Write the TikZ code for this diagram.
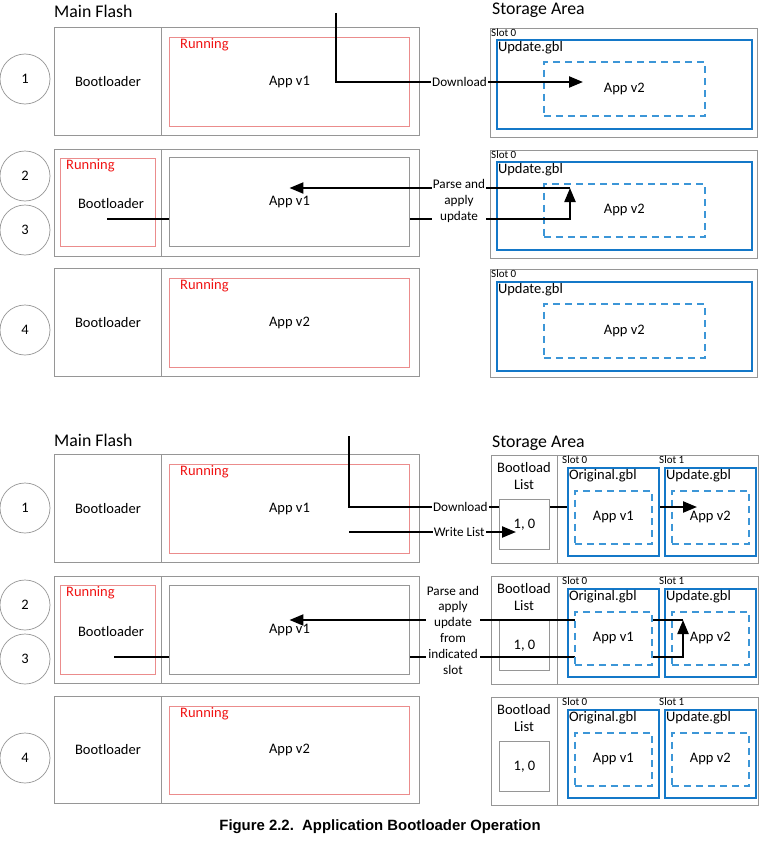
\documentclass[tikz,border=0pt]{standalone}
\usepackage{fontspec}
\setmainfont{Carlito}
\newfontfamily\capfont{Liberation Sans}
\usetikzlibrary{arrows.meta}
\definecolor{boxgray}{RGB}{150,150,150}
\definecolor{runline}{RGB}{235,140,140}
\definecolor{runred}{RGB}{240,20,20}
\definecolor{slotblue}{RGB}{20,120,200}
\definecolor{dashblue}{RGB}{60,150,215}

\begin{document}
\begin{tikzpicture}[x=1pt,y=-1pt,
txt/.style={font=\fontsize{14.5}{17}\selectfont,inner sep=0pt},
title/.style={font=\fontsize{17.8}{21}\selectfont,inner sep=0pt,anchor=west},
sz/.style 2 args={minimum width=#1pt,minimum height=#2pt},
cell/.style={draw=boxgray,line width=0.9pt,txt,anchor=north west},
runbox/.style={draw=runline,line width=0.9pt,txt,anchor=north west},
runtag/.style={text=runred,txt,anchor=north west},
blubox/.style={draw=slotblue,line width=1.7pt,fill=white,txt,anchor=north west},
dashbox/.style={draw=dashblue,line width=1.7pt,dash pattern=on 7pt off 5pt,fill=white,txt,anchor=north west},
slottag/.style={font=\fontsize{11}{13}\selectfont,inner sep=1pt,anchor=north west},
gbltag/.style={txt,inner sep=1.8pt,anchor=north west},
num/.style={circle,draw=boxgray,line width=0.7pt,minimum size=50pt,txt},
wire/.style={line width=2.2pt,-{Triangle[length=14pt,width=11pt]}},
tag/.style={fill=white,inner sep=1pt,font=\fontsize{13.2}{15.8}\selectfont,align=center}]
\useasboundingbox (0,0) rectangle (761,843);

% ---- single slot ----
\node[title] (mfa) at (54,11) {Main Flash};
\node[title] (saa) at (492,10) {Storage Area};

% step 1
\node[num] (n1a) at (25,79) {1};
\node[cell,sz={107}{108}] (boot1) at (54,27) {Bootloader};
\node[cell,sz={258}{108}] (app1) at (161,27) {};
\node[runbox,sz={240}{89}] (run1) at (169,37) {App v1};
\node[runtag] at ([shift={(11,1)}]run1.north west) {Running};
\node[cell,sz={267}{109}] (st1) at (490,28) {};
\node[slottag] at (st1.north west) {Slot 0};
\node[blubox,sz={255}{89}] (gbl1) at (496,39) {};
\node[gbltag] at (gbl1.north west) {Update.gbl};
\node[dashbox,sz={161}{54}] (new1) at (543,61) {App v2};
\coordinate (dl1) at (336,13);
\coordinate (dl1e) at (583,82);
\draw[wire] (dl1) |- node[tag,pos=.75]{Download} (dl1e);

% steps 2 and 3
\node[num] (n2a) at (25,176) {2};
\node[num] (n3a) at (25,230) {3};
\node[cell,sz={107}{107}] (boot2) at (54,149) {};
\node[cell,sz={258}{107}] (app2c) at (161,149) {};
\node[runbox,sz={95}{88}] (run2) at (60,158) {};
\node[runtag] at ([shift={(6,1)}]run2.north west) {Running};
\node[txt] (bl2) at (111,204) {Bootloader};
\node[cell,sz={267}{108}] (st2) at (490,150) {};
\node[slottag] at (st2.north west) {Slot 0};
\node[blubox,sz={255}{88}] (gbl2) at (496,161) {};
\node[gbltag] at (gbl2.north west) {Update.gbl};
\node[dashbox,sz={161}{53}] (new2) at (543,183) {App v2};
\coordinate (bs2) at (107,219);
\coordinate (up2) at (570,188);
\draw[wire] (bs2) -| (up2);
\node[cell,fill=white,sz={240}{89}] (app2) at (169,157) {App v1};
\draw[wire] (up2) -- (up2 -| app2.center);
\node[tag] (pa2) at (459,201) {Parse and\\apply\\update};

% step 4
\node[num] (n4a) at (25,330) {4};
\node[cell,sz={107}{108}] (boot4) at (54,268) {Bootloader};
\node[cell,sz={258}{108}] (app4) at (161,268) {};
\node[runbox,sz={240}{89}] (run4) at (169,278) {App v2};
\node[runtag] at ([shift={(11,1)}]run4.north west) {Running};
\node[cell,sz={267}{108}] (st4) at (490,269) {};
\node[slottag] at (st4.north west) {Slot 0};
\node[blubox,sz={255}{89}] (gbl4) at (496,281) {};
\node[gbltag] at (gbl4.north west) {Update.gbl};
\node[dashbox,sz={161}{54}] (new4) at (543,303) {App v2};

% ---- two slots ----
\node[title] (mfb) at (54,440) {Main Flash};
\node[title] (sab) at (492,443) {Storage Area};

% step 1
\node[num] (n1b) at (25,508) {1};
\node[cell,sz={107}{108}] (boot5) at (54,454) {Bootloader};
\node[cell,sz={258}{108}] (app5) at (161,454) {};
\node[runbox,sz={240}{89}] (run5) at (169,464) {App v1};
\node[runtag] at ([shift={(11,1)}]run5.north west) {Running};
\node[cell,sz={66}{108}] (lc5) at (491,455) {};
\node[cell,sz={201}{108}] (sc5) at (557,455) {};
\node[txt,align=center] (bll5) at (524,476) {Bootload\\List};
\node[slottag] at (561,455) {Slot 0};
\node[slottag] at (658,455) {Slot 1};
\node[blubox,sz={91}{88}] (upd5) at (664,467) {};
\node[gbltag] at (upd5.north west) {Update.gbl};
\node[dashbox,sz={77}{53}] (new5) at (671,490) {App v2};
\coordinate (dl5) at (349,436);
\coordinate (dl5e) at (697,507);
\draw[wire] (dl5) |- node[tag,pos=.66]{Download} (dl5e);
\node[cell,fill=white,sz={50}{50}] (lst5) at (499,499) {1, 0};
\node[blubox,sz={91}{88}] (org5) at (567,467) {};
\node[gbltag] at (org5.north west) {Original.gbl};
\node[dashbox,sz={77}{53}] (old5) at (574,490) {App v1};
\coordinate (wl5) at (349,532);
\coordinate (wl5e) at (516,532);
\draw[wire] (wl5) -- node[tag,pos=.66]{Write List} (wl5e);

% steps 2 and 3
\node[num] (n2b) at (25,605) {2};
\node[num] (n3b) at (25,659) {3};
\node[cell,sz={107}{107}] (boot6) at (54,576) {};
\node[cell,sz={258}{107}] (app6c) at (161,576) {};
\node[runbox,sz={95}{89}] (run6) at (60,585) {};
\node[runtag] at ([shift={(6,1)}]run6.north west) {Running};
\node[txt] (bl6) at (111,632) {Bootloader};
\node[cell,sz={66}{108}] (lc6) at (491,576) {};
\node[cell,sz={201}{108}] (sc6) at (557,576) {};
\node[txt,align=center] (bll6) at (524,597) {Bootload\\List};
\node[slottag] at (561,576) {Slot 0};
\node[slottag] at (658,576) {Slot 1};
\node[cell,sz={50}{50}] (lst6) at (499,620) {1, 0};
\node[blubox,sz={91}{88}] (org6) at (567,588) {};
\node[gbltag] at (org6.north west) {Original.gbl};
\node[blubox,sz={91}{88}] (upd6) at (664,588) {};
\node[gbltag] at (upd6.north west) {Update.gbl};
\node[dashbox,sz={77}{53}] (new6) at (671,611) {App v2};
\coordinate (bs6) at (114,657);
\coordinate (up6) at (683,620);
\draw[wire] (bs6) -| (up6);
\node[cell,fill=white,sz={240}{89}] (app6) at (169,585) {App v1};
\draw[wire] (up6) -- (up6 -| app6.center);
\node[dashbox,sz={77}{53}] (old6) at (574,611) {App v1};
\node[tag] (pa6) at (453,630) {Parse and\\apply\\update\\from\\indicated\\slot};

% step 4
\node[num] (n4b) at (25,758) {4};
\node[cell,sz={107}{107}] (boot7) at (54,696) {Bootloader};
\node[cell,sz={258}{107}] (app7) at (161,696) {};
\node[runbox,sz={240}{88}] (run7) at (169,706) {App v2};
\node[runtag] at ([shift={(11,1)}]run7.north west) {Running};
\node[cell,sz={66}{108}] (lc7) at (491,697) {};
\node[cell,sz={201}{108}] (sc7) at (557,697) {};
\node[txt,align=center] (bll7) at (524,718) {Bootload\\List};
\node[slottag] at (561,697) {Slot 0};
\node[slottag] at (658,697) {Slot 1};
\node[cell,sz={50}{50}] (lst7) at (499,741) {1, 0};
\node[blubox,sz={91}{88}] (org7) at (567,709) {};
\node[gbltag] at (org7.north west) {Original.gbl};
\node[dashbox,sz={77}{53}] (old7) at (574,732) {App v1};
\node[blubox,sz={91}{88}] (upd7) at (664,709) {};
\node[gbltag] at (upd7.north west) {Update.gbl};
\node[dashbox,sz={77}{53}] (new7) at (671,732) {App v2};

\node[font=\capfont\bfseries\fontsize{14.9}{18}\selectfont] (cap) at (380,827) {Figure 2.2.\ \ Application Bootloader Operation};
\end{tikzpicture}
\end{document}
